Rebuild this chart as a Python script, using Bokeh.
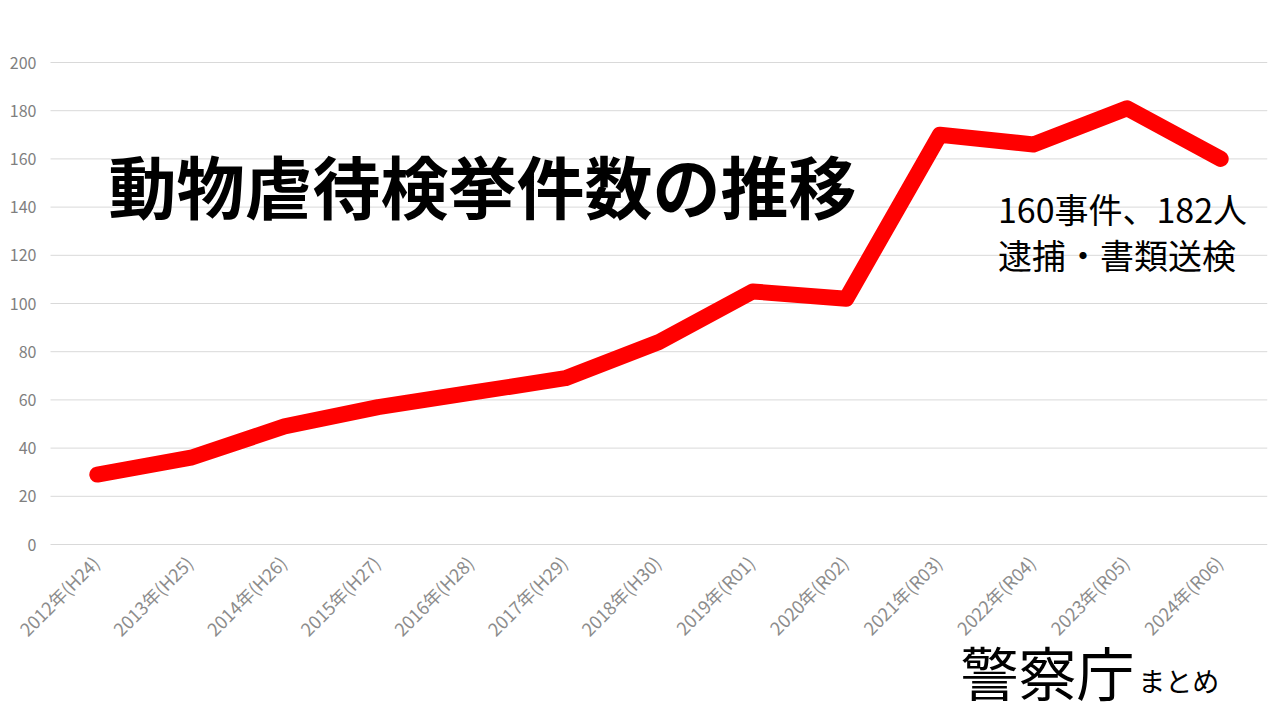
from math import pi
from bokeh.plotting import figure
from bokeh.models import Range1d, Label, ColumnDataSource
from bokeh.core.properties import value
from bokeh.embed import file_html
from bokeh.resources import INLINE

years = ["2012年(H24)", "2013年(H25)", "2014年(H26)", "2015年(H27)", "2016年(H28)",
         "2017年(H29)", "2018年(H30)", "2019年(R01)", "2020年(R02)", "2021年(R03)",
         "2022年(R04)", "2023年(R05)", "2024年(R06)"]
cases = [29, 36, 49, 57, 63, 69, 84, 105, 102, 170, 166, 181, 160]
y_ticks = [0, 20, 40, 60, 80, 100, 120, 140, 160, 180, 200]

n = len(years)
xs = list(range(n))
font = "Noto Sans CJK JP"

# frame spans the full canvas; value 0 at y=544px, 200 at y=62px,
# categories 93.6px apart with the plot area starting at x=50px
px_per_unit = 482 / 200
y_lo = -(720 - 544) / px_per_unit
y_hi = 200 + 62 / px_per_unit
px_per_cat = 1217 / n
x_lo = -0.5 - 50 / px_per_cat
x_hi = n - 0.5

p = figure(width=1280, height=720, output_backend="svg", toolbar_location=None,
           x_range=Range1d(x_lo, x_hi), y_range=Range1d(y_lo, y_hi),
           min_border_left=0, min_border_right=13, min_border_top=0, min_border_bottom=0)
p.outline_line_color = None
p.background_fill_color = "white"
p.border_fill_color = "white"
p.axis.visible = False
p.grid.visible = False

# horizontal grid lines at the value ticks
p.segment(x0=[-0.5] * len(y_ticks), x1=[n - 0.5] * len(y_ticks), y0=y_ticks, y1=y_ticks,
          line_color="#d9d9d9", line_width=1)

# value tick labels
p.text(x=[-0.5] * len(y_ticks), y=y_ticks, text=[str(t) for t in y_ticks],
       x_offset=-14, text_align="right", text_baseline="middle",
       text_font=value(font), text_font_size="16px", text_color="#7f7f7f")

p.line(xs, cases, line_color="#ff0000", line_width=16, line_cap="round", line_join="round")

# category labels, rotated 45 degrees below the zero line
lab_src = ColumnDataSource(dict(x=xs, y=[-6.0] * n, text=years))
p.text(x="x", y="y", text="text", source=lab_src, angle=pi / 4,
       text_align="right", text_baseline="middle", x_offset=-2,
       text_font=value(font), text_font_size="18px", text_color="#8c8c8c")

p.add_layout(Label(x=0.12, y=149.5, text="動物虐待検挙件数の推移", text_font=font,
                   text_font_size="68px", text_font_style="bold", text_color="black",
                   text_baseline="middle", text_align="left"))
p.add_layout(Label(x=9.62, y=139.5, text="160事件、182人", text_font=font,
                   text_font_size="34px", text_color="black",
                   text_baseline="middle", text_align="left"))
p.add_layout(Label(x=9.62, y=120.5, text="逮捕・書類送検", text_font=font,
                   text_font_size="34px", text_color="black",
                   text_baseline="middle", text_align="left"))
p.add_layout(Label(x=9.22, y=-52.3, text="警察庁", text_font=font,
                   text_font_size="58px", text_color="black",
                   text_baseline="middle", text_align="left"))
p.add_layout(Label(x=11.12, y=-56.5, text="まとめ", text_font=font,
                   text_font_size="27px", text_color="black",
                   text_baseline="middle", text_align="left"))

open("out.html", "w").write(file_html(p, INLINE))
